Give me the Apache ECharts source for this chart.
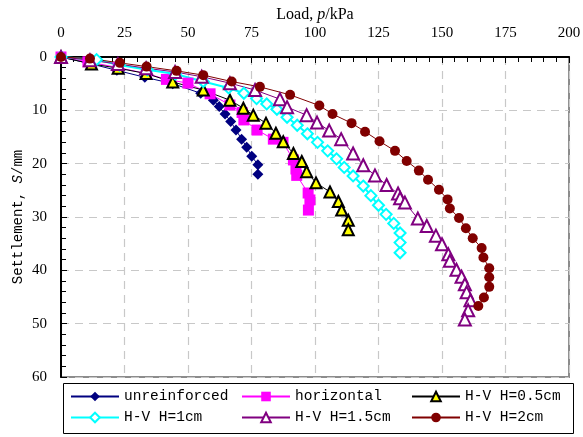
<!DOCTYPE html>
<html>
<head>
<meta charset="utf-8">
<script src="https://cdn.jsdelivr.net/npm/echarts@6/dist/echarts.min.js"></script>
<style>
  html, body { margin: 0; padding: 0; background: #fff; }
  #chart { width: 583px; height: 437px; }
</style>
</head>
<body>
<div id="chart"></div>
<script>
// 荷载-沉降数据 [p (kPa), S (mm)]
var unreinforced = [[0, 0], [11, 1.2], [22, 2.5], [33, 3.8], [44, 5.0], [55, 6.8], [60, 8.1], [62.3, 9.3], [64.6, 10.7], [66.8, 12.1], [68.9, 13.7], [71.1, 15.4], [73.1, 16.9], [75.1, 18.6], [77.5, 20.2], [77.5, 22]]
var horizontal = [[0, 0], [10.6, 0.9], [22.5, 2], [33.7, 3.1], [41.5, 4.2], [50, 4.9], [58.7, 6.9], [66.5, 9], [71.3, 10.4], [72, 11.8], [77.2, 13.7], [83.6, 15.4], [87.4, 16], [91.5, 19.3], [92.5, 21], [92.8, 22.2], [97.3, 25.5], [98, 26.8], [97.4, 28.7]]
var hv05 = [[0, 0], [12, 1.3], [22.5, 2.1], [33.5, 3.1], [44, 4.7], [56, 6.2], [66.5, 8.1], [71.8, 9.6], [75.7, 10.9], [80.7, 12.4], [84.6, 14.3], [87.5, 15.9], [91.5, 18.1], [94.8, 19.6], [96.7, 21.5], [100.4, 23.6], [105.9, 25.3], [109.2, 27.1], [110.5, 28.7], [113.1, 30.6], [113.1, 32.4]]
var hv1 = [[0, 0], [14, 0.5], [23, 1.5], [34, 2.4], [45, 3.2], [56, 4.6], [66, 5.8], [72, 6.8], [77, 7.8], [81, 8.8], [85, 9.8], [89, 11.3], [93, 12.8], [97, 14.4], [101, 16], [105, 17.6], [108.5, 19.1], [111.5, 20.7], [115, 22.3], [119, 24.2], [122, 26], [125, 27.8], [128, 29.5], [131, 31.2], [133.5, 33], [133.5, 34.8], [133.5, 36.7]]
var hv15 = [[0, 0], [11.4, 0.6], [22.4, 1.3], [33.5, 2.1], [44.9, 2.8], [55.4, 3.7], [66.5, 4.9], [76.4, 6.2], [86.2, 7.9], [89, 9.4], [96.7, 10.9], [100.8, 12.3], [105.6, 13.8], [110.3, 15.4], [115, 18.1], [119, 20.3], [123.6, 22.2], [128.2, 24], [132.7, 25.6], [133.5, 26.5], [135.4, 27.3], [140.5, 30.3], [144, 31.7], [147.6, 33.5], [150, 35.1], [152.5, 37], [153.1, 38.2], [155.7, 39.9], [157.7, 41.2], [159, 42.6], [159.7, 44.1], [161.2, 45.6], [160.3, 47.5], [159, 49.2]]
var hv2 = [[0, 0], [11.4, 0.3], [23.2, 1.1], [33.7, 1.8], [45.5, 2.6], [56, 3.4], [67.2, 4.6], [78.3, 5.6], [90.2, 7.1], [101.7, 9.1], [106.9, 10.7], [114.4, 12.4], [119.7, 14], [125.4, 15.8], [131.5, 17.6], [136.1, 19.5], [140.9, 21.3], [144.5, 23], [148.8, 24.9], [152.2, 26.7], [153.1, 28.4], [156.7, 30.2], [159.4, 32.1], [162.1, 34], [165.6, 35.8], [166.3, 37.6], [168.6, 39.6], [168.6, 41.3], [168.6, 43.1], [166.5, 45.1], [164.3, 46.7]]

var names = ['unreinforced', 'horizontal', 'H-V H=0.5cm', 'H-V H=1cm', 'H-V H=1.5cm', 'H-V H=2cm']

var myChart = echarts.init(document.getElementById('chart'))

var legendText = { fontFamily: 'Liberation Mono', fontSize: 14.5, color: '#000' }
function legendCol (left, data) {
  return {
    orient: 'vertical',
    left: left,
    top: 389,
    height: 46,
    padding: 0,
    itemWidth: 48,
    itemHeight: 12,
    itemGap: 6,
    textStyle: legendText,
    data: data
  }
}

myChart.setOption({
  animation: false,
  grid: {
    left: 61,
    top: 57,
    width: 508,
    height: 320,
    outerBoundsMode: 'none',
    containLabel: false,
    show: true,
    borderColor: '#8c8c8c',
    borderWidth: 2,
    backgroundColor: 'transparent'
  },
  legend: [
    legendCol(70, [names[0], names[3]]),
    legendCol(241, [names[1], names[4]]),
    legendCol(411, [names[2], names[5]])
  ],
  graphic: [{
    type: 'rect',
    shape: { x: 63.5, y: 383.5, width: 510, height: 50 },
    style: { fill: 'none', stroke: '#000', lineWidth: 1 }
  }],
  xAxis: {
    type: 'value',
    position: 'top',
    min: 0,
    max: 200,
    interval: 25,
    name: '{a|Load, }{i|p}{a|/kPa}',
    nameLocation: 'middle',
    nameGap: 34,
    nameMoveOverlap: false,
    nameTextStyle: {
      rich: {
        a: { fontFamily: 'Liberation Serif', fontSize: 16, color: '#000' },
        i: { fontFamily: 'Liberation Serif', fontSize: 16, fontStyle: 'italic', color: '#000' }
      }
    },
    axisLine: { lineStyle: { color: '#000', width: 2 } },
    axisTick: { inside: true, length: 6, lineStyle: { color: '#000' } },
    minorTick: { show: true, splitNumber: 5, length: 5, lineStyle: { color: '#000' } },
    axisLabel: { margin: 16, fontFamily: 'Liberation Serif', fontSize: 15, color: '#000' },
    splitLine: { lineStyle: { color: '#c8c8c8', type: [8, 6], width: 1.2 } }
  },
  yAxis: {
    type: 'value',
    inverse: true,
    min: 0,
    max: 60,
    interval: 10,
    name: '{a|Settlement, }{i|S}{a|/mm}',
    nameLocation: 'middle',
    nameGap: 36,
    nameMoveOverlap: false,
    nameTextStyle: {
      rich: {
        a: { fontFamily: 'Liberation Mono', fontSize: 14, color: '#000' },
        i: { fontFamily: 'Liberation Mono', fontSize: 14, fontStyle: 'italic', color: '#000' }
      }
    },
    axisLine: { lineStyle: { color: '#000', width: 2 } },
    axisTick: { inside: true, length: 6, lineStyle: { color: '#000' } },
    minorTick: { show: true, splitNumber: 5, length: 5, lineStyle: { color: '#000' } },
    axisLabel: { margin: 14, fontFamily: 'Liberation Serif', fontSize: 15, color: '#000' },
    splitLine: { lineStyle: { color: '#c8c8c8', type: [8, 6], width: 1.2 } }
  },
  series: [
    {
      name: names[0],
      type: 'line',
      data: unreinforced,
      symbol: 'diamond',
      symbolSize: 11,
      lineStyle: { color: '#000080', width: 1 },
      itemStyle: { color: '#000080' }
    },
    {
      name: names[1],
      type: 'line',
      data: horizontal,
      symbol: 'rect',
      symbolSize: 11,
      lineStyle: { color: '#ff00ff', width: 1 },
      itemStyle: { color: '#ff00ff' }
    },
    {
      name: names[2],
      type: 'line',
      data: hv05,
      symbol: 'triangle',
      symbolSize: 11,
      lineStyle: { color: '#000', width: 1 },
      itemStyle: { color: '#ffff00', borderColor: '#000', borderWidth: 2 }
    },
    {
      name: names[3],
      type: 'line',
      data: hv1,
      symbol: 'diamond',
      symbolSize: 11,
      lineStyle: { color: '#00ffff', width: 2 },
      itemStyle: { color: '#fff', borderColor: '#00ffff', borderWidth: 2 }
    },
    {
      name: names[4],
      type: 'line',
      data: hv15,
      symbol: 'triangle',
      symbolSize: 12,
      lineStyle: { color: '#800080', width: 1 },
      itemStyle: { color: '#fff', borderColor: '#800080', borderWidth: 2 }
    },
    {
      name: names[5],
      type: 'line',
      data: hv2,
      symbol: 'circle',
      symbolSize: 10,
      lineStyle: { color: '#800000', width: 1 },
      itemStyle: { color: '#800000' }
    }
  ]
})
</script>
</body>
</html>
